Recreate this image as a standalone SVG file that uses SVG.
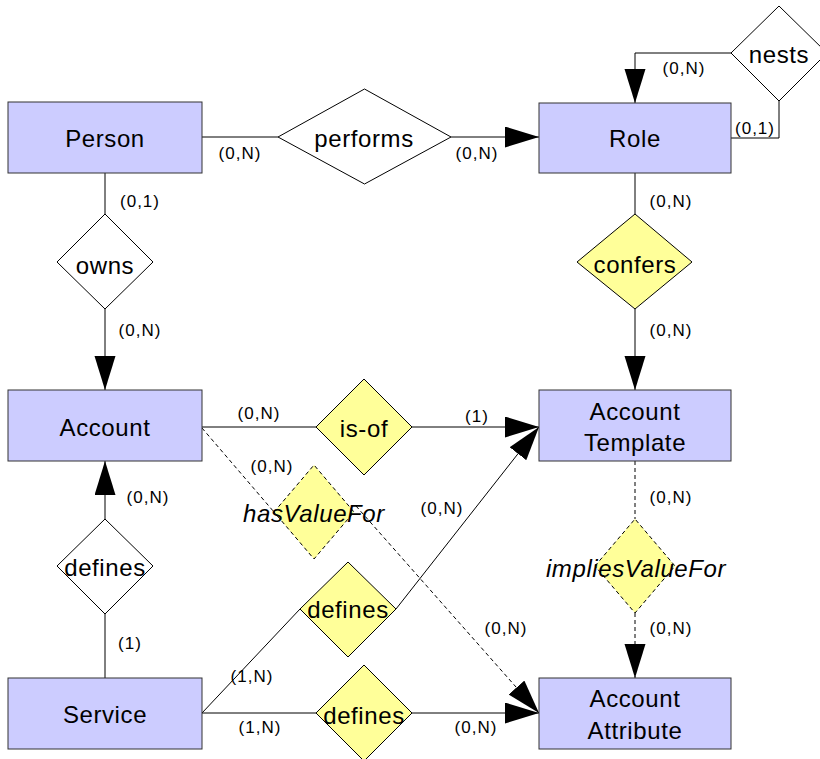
<svg xmlns="http://www.w3.org/2000/svg" width="820" height="759" viewBox="0 0 820 759">
<defs>
<style>
.ent{fill:#ccccff;stroke:#333;stroke-width:1}
.rel{fill:#fff;stroke:#000;stroke-width:1}
.relY{fill:#ffff99;stroke:#000;stroke-width:1}
.relD{fill:#ffff99;stroke:#000;stroke-width:1;stroke-dasharray:4,3}
.t{font-family:"Liberation Sans",Arial,sans-serif;font-size:24px;fill:#000;text-anchor:middle;dominant-baseline:central;letter-spacing:0.6px}
.ti{font-style:italic}
.lb{font-family:"Liberation Sans",Arial,sans-serif;font-size:17px;fill:#000;text-anchor:middle;dominant-baseline:central;letter-spacing:1px}
.c{fill:none;stroke:#000;stroke-width:1}
.cd{fill:none;stroke:#000;stroke-width:1;stroke-dasharray:4,3}
.arr{marker-end:url(#ah)}
</style>
<marker id="ah" markerUnits="userSpaceOnUse" markerWidth="36" markerHeight="22" refX="34" refY="10.5" orient="auto" viewBox="0 0 36 22">
<path d="M0,0 L34,10.5 L0,21 z" fill="#000"/>
</marker>
</defs>
<rect width="820" height="759" fill="#fff"/>

<g id="connectors">
<path class="c" d="M202,137 L278,137"/>
<path class="c arr" d="M451,137 L539,137"/>
<path class="c arr" d="M731,53 L635,53 L635,103"/>
<path class="c" d="M779,101 L779,138 L731,138"/>
<path class="c" d="M105,173 L105,214"/>
<path class="c arr" d="M105,309 L105,390"/>
<path class="c" d="M635,173 L635,214"/>
<path class="c arr" d="M635,309 L635,390"/>
<path class="c" d="M202,427 L316,427"/>
<path class="c arr" d="M412,427 L539,427"/>
<path class="cd" d="M202,428 L274,512"/>
<path class="cd arr" d="M356,506 L539,713"/>
<path class="cd" d="M635,461 L635,519"/>
<path class="cd arr" d="M635,613 L635,678"/>
<path class="c" d="M105,678 L105,614"/>
<path class="c arr" d="M105,519 L105,461"/>
<path class="c" d="M202,713 L300,609"/>
<path class="c arr" d="M396,609 L539,427"/>
<path class="c" d="M202,713 L316,713"/>
<path class="c arr" d="M412,713 L539,713"/>
</g>

<g id="labels">
<text class="lb" x="240" y="153">(0,N)</text>
<text class="lb" x="477" y="153">(0,N)</text>
<text class="lb" x="684" y="68">(0,N)</text>
<text class="lb" x="755" y="128">(0,1)</text>
<text class="lb" x="140" y="201">(0,1)</text>
<text class="lb" x="140" y="330">(0,N)</text>
<text class="lb" x="671" y="201">(0,N)</text>
<text class="lb" x="671" y="330">(0,N)</text>
<text class="lb" x="259" y="413">(0,N)</text>
<text class="lb" x="477" y="416">(1)</text>
<text class="lb" x="272" y="466">(0,N)</text>
<text class="lb" x="442" y="508">(0,N)</text>
<text class="lb" x="671" y="497">(0,N)</text>
<text class="lb" x="671" y="628">(0,N)</text>
<text class="lb" x="506" y="628">(0,N)</text>
<text class="lb" x="148" y="497">(0,N)</text>
<text class="lb" x="130" y="643">(1)</text>
<text class="lb" x="252" y="676">(1,N)</text>
<text class="lb" x="260" y="727">(1,N)</text>
<text class="lb" x="476" y="727">(0,N)</text>
</g>

<g id="person"><rect class="ent" x="8" y="102" width="194" height="71"/><text class="t" x="105" y="138">Person</text></g>
<g id="role"><rect class="ent" x="539" y="103" width="192" height="70"/><text class="t" x="635" y="138">Role</text></g>
<g id="account"><rect class="ent" x="8" y="390" width="194" height="71"/><text class="t" x="105" y="427">Account</text></g>
<g id="accountTemplate"><rect class="ent" x="539" y="390" width="192" height="71"/><text class="t" x="635" y="411">Account</text><text class="t" x="635" y="442">Template</text></g>
<g id="service"><rect class="ent" x="8" y="678" width="194" height="71"/><text class="t" x="105" y="714">Service</text></g>
<g id="accountAttribute"><rect class="ent" x="539" y="678" width="192" height="71"/><text class="t" x="635" y="698">Account</text><text class="t" x="635" y="730">Attribute</text></g>

<g id="performs"><polygon class="rel" points="278,137 364.5,89 451,137 364.5,184"/><text class="t" x="364" y="138">performs</text></g>
<g id="nests"><polygon class="rel" points="731,53 779,6 827,53 779,101"/><text class="t" x="779" y="54">nests</text></g>
<g id="owns"><polygon class="rel" points="57,262 105,214 153,262 105,309"/><text class="t" x="105" y="265">owns</text></g>
<g id="confers"><polygon class="relY" points="577,262 635,214 692,262 635,309"/><text class="t" x="635" y="264">confers</text></g>
<g id="isOf"><polygon class="relY" points="316,427 364,379 412,427 364,475"/><text class="t" x="364" y="428">is-of</text></g>
<g id="hasValueFor"><polygon class="relD" points="274,512 314,465 354,512 314,559"/><text class="t ti" x="314" y="513">hasValueFor</text></g>
<g id="impliesValueFor"><polygon class="relD" points="595,566 635,519 675,566 635,613"/><text class="t ti" x="636" y="568">impliesValueFor</text></g>
<g id="definesAccount"><polygon class="rel" points="57,566 105,519 153,566 105,614"/><text class="t" x="105" y="567">defines</text></g>
<g id="definesTemplate"><polygon class="relY" points="300,609 348,562 396,609 348,657"/><text class="t" x="348" y="609">defines</text></g>
<g id="definesAttribute"><polygon class="relY" points="316,713 364,665 412,713 364,761"/><text class="t" x="364" y="715">defines</text></g>
</svg>
